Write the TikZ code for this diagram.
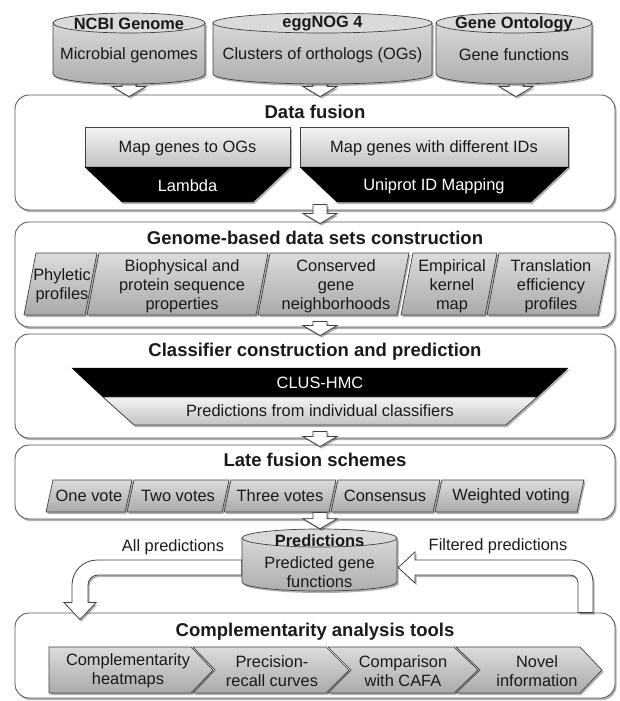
\documentclass[tikz,border=0pt]{standalone}
\usepackage{fontspec}
\setmainfont{Liberation Sans}
\usetikzlibrary{calc,shadows}
\definecolor{linec}{HTML}{5A5A5A}
\definecolor{edgec}{HTML}{404040}
\definecolor{textc}{HTML}{1A1A1A}
\definecolor{lighttop}{HTML}{F4F4F4}
\definecolor{lightbot}{HTML}{C2C2C2}
\definecolor{midtop}{HTML}{DCDCDC}
\definecolor{midbot}{HTML}{AAAAAA}
\definecolor{cyltop}{HTML}{D8D8D8}
\definecolor{cylbot}{HTML}{AEAEAE}
\definecolor{cylcap}{HTML}{DADADA}
\tikzset{
 shd/.style={drop shadow={shadow xshift=1.5pt, shadow yshift=-2pt, opacity=0.3, fill=black}},
 panel/.style={draw=linec, line width=0.9pt, rounded corners=14pt, fill=white, shd, inner sep=0pt, minimum width=600pt},
 lightshape/.style={draw=edgec, line width=0.7pt, top color=lighttop, bottom color=lightbot, shd},
 midshape/.style={draw=edgec, line width=0.7pt, top color=midtop, bottom color=midbot, shd},
 blackshape/.style={draw=black, fill=black, shd},
 cylbody/.style={draw=edgec, line width=0.7pt, top color=cyltop, bottom color=cylbot, shd},
 cylcapst/.style={draw=edgec, line width=0.7pt, fill=cylcap},
 harrow/.style={draw=edgec, line width=0.8pt, fill=white, line join=miter, shd},
 txt/.style={font=\fontsize{16.4}{18.8}\selectfont, text=textc, align=center, inner sep=0pt},
 wtxt/.style={txt, text=white},
 btxt/.style={font=\fontsize{16.4}{18.8}\selectfont\bfseries, text=textc, inner sep=0pt},
 ttl/.style={font=\fontsize{18.5}{21}\selectfont\bfseries, text=textc, inner sep=0pt},
 area/.style={inner sep=0pt, draw=none},
}
\newcommand{\cylshape}[5]{%
 \pgfmathsetmacro\cylrx{(#2-#1)/2}%
 \pgfmathsetmacro\cylcx{(#2+#1)/2}%
 \path[cylbody] (#1,#3) -- (#1,#4) arc[start angle=180, end angle=360, x radius=\cylrx pt, y radius=#5pt] -- (#2,#3) -- cycle;
 \path[cylcapst] (\cylcx,#3) ellipse [x radius=\cylrx pt, y radius=#5pt];
}
\newcommand{\hollowdown}[2]{%
 \path[harrow] let \p1=(#1), \p2=(#2) in
 (\x1-7pt,\y1) -- (\x1-7pt,\y2+10pt) -- (\x1-17pt,\y2+10pt) -- (\x1,\y2) --
 (\x1+17pt,\y2+10pt) -- (\x1+7pt,\y2+10pt) -- (\x1+7pt,\y1) -- cycle;
}
\begin{document}
\begin{tikzpicture}[x=1pt,y=-1pt]
\useasboundingbox (0,0) rectangle (619,701);

% ---------- panels ----------
\node[panel, minimum height=115pt] (fusion) at (315,152.5) {};
\node[panel, minimum height=105pt] (genome) at (315,274.5) {};
\node[panel, minimum height=104pt] (classif) at (315,386) {};
\node[panel, minimum height=74pt] (late) at (315,482) {};
\node[panel, minimum height=85pt] (compl) at (315,655.5) {};

% ---------- data fusion shapes ----------
\path[lightshape] (85,127) rectangle (290,167);
\path[blackshape] (85,167) -- (290,167) -- (253,202) -- (122,202) -- cycle;
\path[lightshape] (300,127) rectangle (568,167);
\path[blackshape] (300,167) -- (568,167) -- (531,202) -- (337,202) -- cycle;

% ---------- genome-based shapes ----------
\path[midshape] (36,253) -- (97,253) -- (85,315) -- (24,315) -- cycle;
\path[midshape] (99,253) -- (268,253) -- (256,315) -- (87,315) -- cycle;
\path[midshape] (270,253) -- (409,253) -- (397,315) -- (258,315) -- cycle;
\path[midshape] (413,253) -- (497,253) -- (485,315) -- (401,315) -- cycle;
\path[midshape] (499,253) -- (610,253) -- (598,315) -- (487,315) -- cycle;

% ---------- classifier shapes ----------
\path[blackshape] (72,368) -- (568,368) -- (537,397) -- (103,397) -- cycle;
\path[lightshape] (103,397) -- (537,397) -- (506,425) -- (134,425) -- cycle;

% ---------- late fusion shapes ----------
\path[midshape] (53,480) -- (132,480) -- (125,512) -- (46,512) -- cycle;
\path[midshape] (134,480) -- (229,480) -- (222,512) -- (127,512) -- cycle;
\path[midshape] (231,480) -- (336,480) -- (329,512) -- (224,512) -- cycle;
\path[midshape] (338,480) -- (440,480) -- (433,512) -- (331,512) -- cycle;
\path[midshape] (442,480) -- (584,480) -- (577,512) -- (435,512) -- cycle;

% ---------- complementarity chevrons ----------
\path[midshape] (49,647) -- (191,647) -- (213,670) -- (191,693) -- (49,693) -- cycle;
\path[midshape] (193,647) -- (326,647) -- (349,670) -- (326,693) -- (193,693) -- (215,670) -- cycle;
\path[midshape] (328,647) -- (454,647) -- (478,670) -- (454,693) -- (328,693) -- (351,670) -- cycle;
\path[midshape] (456,647) -- (580,647) -- (602,670) -- (580,693) -- (456,693) -- (480,670) -- cycle;

% ---------- cylinder areas (named) ----------
\node[area, minimum width=152pt, minimum height=71pt] (ncbi) at (129,48.5) {};
\node[area, minimum width=219pt, minimum height=71pt] (egg) at (322.5,48.5) {};
\node[area, minimum width=156pt, minimum height=71pt] (go) at (514,48.5) {};
\node[area, minimum width=155pt, minimum height=62pt] (preds) at (319.5,560) {};

% ---------- hollow arrows ----------
\hollowdown{$(ncbi.south)+(0,-6)$}{$(fusion.north)+(0,2)$}
\hollowdown{$(egg.south)+(-2.5,-6)$}{$(fusion.north)+(0,2)$}
\hollowdown{$(go.south)+(2,-6)$}{$(fusion.north)+(0,2)$}
\hollowdown{$(fusion.south)+(5,-6)$}{$(genome.north)+(0,2)$}
\hollowdown{$(genome.south)+(5,-6)$}{$(classif.north)+(0,2)$}
\hollowdown{$(classif.south)+(5,-7)$}{$(late.north)+(0,2)$}

% all predictions (left, curved)
\path[harrow] let \p1=(preds.west), \p2=(compl.north) in
 (\x1,\y1) -- (97pt,\y1) arc[start angle=90, end angle=180, radius=25pt]
 -- (72pt,\y2+10pt) -- (64pt,\y2+10pt) -- (80pt,\y2-7pt) -- (96pt,\y2+10pt)
 -- (88pt,\y2+10pt) -- (88pt,\y1-25pt) arc[start angle=180, end angle=90, radius=10pt]
 -- (\x1,\y1-15pt) -- cycle;
% filtered predictions (right, curved)
\path[harrow] let \p1=(preds.east), \p2=(compl.north) in
 (\x1+1pt,\y1-7.5pt) -- (415pt,\y1+8pt) -- (415pt,\y1) -- (571pt,\y1)
 arc[start angle=90, end angle=0, radius=22pt] -- (593pt,\y2) -- (578pt,\y2)
 -- (578pt,\y1-23pt) arc[start angle=0, end angle=90, radius=8pt]
 -- (415pt,\y1-15pt) -- (415pt,\y1-23pt) -- cycle;

% ---------- cylinders ----------
\cylshape{53}{205}{23}{74}{10}
\cylshape{213}{432}{23}{74}{10}
\cylshape{436}{592}{23}{74}{10}
\cylshape{242}{397}{538}{582}{9}

\hollowdown{$(late.south)+(5,-7)$}{preds.north}

% ---------- texts ----------
\node[btxt] (ncbit) at (129,24) {NCBI Genome};
\node[txt] (ncbis) at (129,55) {Microbial genomes};
\node[btxt] (eggt) at (322.5,24) {eggNOG 4};
\node[txt] (eggs) at (322.5,55) {Clusters of orthologs (OGs)};
\node[btxt] (got) at (514,24) {Gene Ontology};
\node[txt] (gos) at (514,55) {Gene functions};

\node[ttl] (tfusion) at (315,112) {Data fusion};
\node[txt] (map1) at (187.5,148) {Map genes to OGs};
\node[wtxt] (lambda) at (187.5,186) {Lambda};
\node[txt] (map2) at (434,148) {Map genes with different IDs};
\node[wtxt] (uniprot) at (434,186) {Uniprot ID Mapping};

\node[ttl] (tgenome) at (315,238) {Genome-based data sets construction};
\node[txt] (phyl) at (62,286) {Phyletic\\profiles};
\node[txt] (bioph) at (182,286) {Biophysical and\\protein sequence\\properties};
\node[txt] (cons) at (336,286) {Conserved\\gene\\neighborhoods};
\node[txt] (empir) at (452,286) {Empirical\\kernel\\map};
\node[txt] (transl) at (551,286) {Translation\\efficiency\\profiles};

\node[ttl] (tclassif) at (315,352) {Classifier construction and prediction};
\node[wtxt] (clus) at (320,383) {CLUS-HMC};
\node[txt] (indiv) at (320,411) {Predictions from individual classifiers};

\node[ttl] (tlate) at (315,460) {Late fusion schemes};
\node[txt] (v1) at (89,496) {One vote};
\node[txt] (v2) at (178,496) {Two votes};
\node[txt] (v3) at (280,496) {Three votes};
\node[txt] (v4) at (385,496) {Consensus};
\node[txt] (v5) at (511,496) {Weighted voting};

\node[btxt] (predt) at (319.5,541) {Predictions};
\node[txt] (preds1) at (319.5,572) {Predicted gene\\functions};
\node[txt] (allp) at (173,547) {All predictions};
\node[txt] (filtp) at (498,546) {Filtered predictions};

\node[ttl] (tcompl) at (315,632) {Complementarity analysis tools};
\node[txt] (c1) at (128,671) {Complementarity\\heatmaps};
\node[txt] (c2) at (272,671) {Precision-\\recall curves};
\node[txt] (c3) at (403,671) {Comparison\\with CAFA};
\node[txt] (c4) at (537,671) {Novel\\information};
\end{tikzpicture}
\end{document}
